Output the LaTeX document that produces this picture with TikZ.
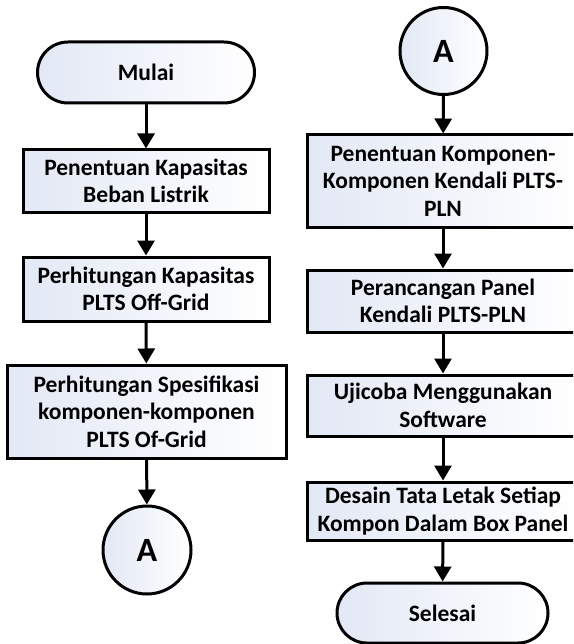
\documentclass[tikz,border=0pt]{standalone}
\usepackage{fontspec}
\setmainfont{Carlito}
\usetikzlibrary{arrows.meta,shapes.misc}
\definecolor{fillblue}{HTML}{E2E8F5}
\tikzset{
  base/.style={draw=black, line width=3pt, left color=fillblue, right color=white,
    font=\fontsize{23.5}{27.5}\selectfont\bfseries, align=center, inner sep=0pt},
  procbox/.style={base, rectangle},
  termbox/.style={base, rounded rectangle},
  connbox/.style={base, circle, font=\fontsize{34}{36}\selectfont\bfseries},
  flow/.style={line width=3pt, -{Triangle[width=17pt,length=15pt]}},
}
\begin{document}
\begin{tikzpicture}[x=1pt,y=-1pt]
\useasboundingbox (0,0) rectangle (573,644);
\clip (0,0) rectangle (573,644);
% left column
\node[termbox, minimum width=217pt, minimum height=61pt] (mulai) at (146,72.5) {Mulai};
\node[procbox, minimum width=246pt, minimum height=62pt] (b1) at (146,181) {Penentuan Kapasitas\\Beban Listrik};
\node[procbox, minimum width=246pt, minimum height=64pt] (b2) at (146,289) {Perhitungan Kapasitas\\PLTS Off-Grid};
\node[procbox, minimum width=279pt, minimum height=93pt] (b3) at (146.5,411.5) {Perhitungan Spesifikasi\\komponen-komponen\\PLTS Of-Grid};
\node[connbox, minimum size=88pt] (a1) at (147,550) {A};
% right column
\node[connbox, minimum size=87pt] (a2) at (443.5,51) {A};
\node[procbox, minimum width=272pt, minimum height=92pt] (r1) at (443,181) {Penentuan Komponen-\\Komponen Kendali PLTS-\\PLN};
\node[procbox, minimum width=272pt, minimum height=62pt] (r2) at (443,301) {Perancangan Panel\\Kendali PLTS-PLN};
\node[procbox, minimum width=272pt, minimum height=61pt] (r3) at (443,405.5) {Ujicoba Menggunakan\\Software};
\node[procbox, minimum width=272pt, minimum height=58pt] (r4) at (443,511) {Desain Tata Letak Setiap\\Kompon Dalam Box Panel};
\node[termbox, minimum width=211pt, minimum height=60pt] (selesai) at (442.5,613) {Selesai};
% connectors
\draw[flow] (mulai) -- (b1);
\draw[flow] (b1) -- (b2);
\draw[flow] (b2) -- (b3);
\draw[flow] (b3) -- (a1);
\draw[flow] (a2) -- (r1);
\draw[flow] (r1) -- (r2);
\draw[flow] (r2) -- (r3);
\draw[flow] (r3) -- (r4);
\draw[flow] (r4) -- (selesai);
\end{tikzpicture}
\end{document}
